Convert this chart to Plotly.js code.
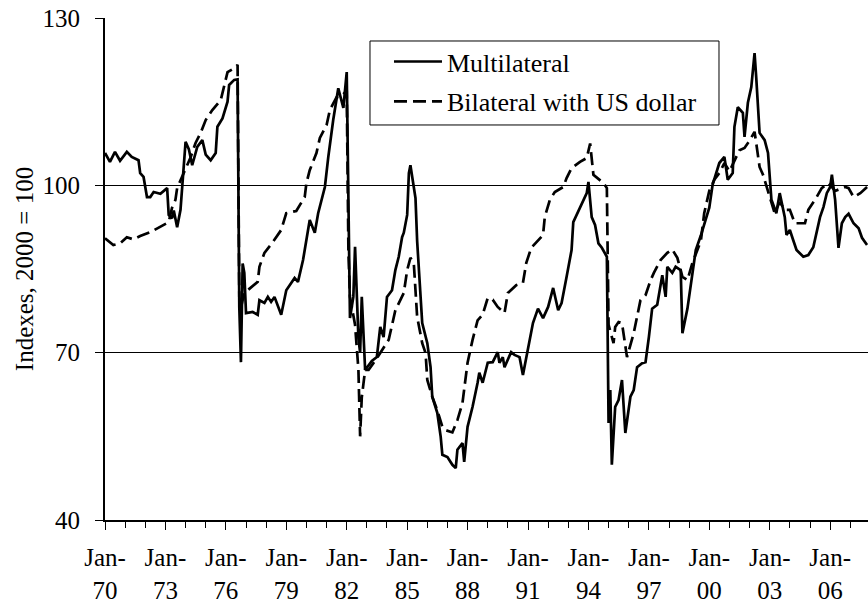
<!DOCTYPE html>
<html>
<head>
<meta charset="utf-8">
<script src="https://cdn.plot.ly/plotly-3.0.1.min.js"></script>
<style>html,body{margin:0;padding:0;background:#fff;}#chart{width:868px;height:604px;}</style>
</head>
<body>
<div id="chart"></div>
<script>
const seriesNames = ["Multilateral", "Bilateral with US dollar"];

const multiDates = ["1970-01","1970-04","1970-07","1970-10","1971-02","1971-05","1971-09","1971-10","1971-12","1972-02","1972-04","1972-06","1972-10","1973-01","1973-02","1973-03","1973-05","1973-06","1973-08","1973-10","1973-11","1974-01","1974-03","1974-05","1974-08","1974-11","1975-01","1975-04","1975-07","1975-08","1975-11","1976-02","1976-03","1976-06","1976-08","1976-09","1976-10","1976-11","1976-12","1977-01","1977-05","1977-08","1977-09","1977-12","1978-02","1978-04","1978-06","1978-10","1979-01","1979-06","1979-08","1979-11","1980-03","1980-06","1980-08","1980-12","1981-02","1981-05","1981-08","1981-10","1981-11","1982-01","1982-02","1982-03","1982-05","1982-06","1982-08","1982-09","1982-10","1982-12","1983-04","1983-07","1983-09","1983-11","1984-01","1984-04","1984-06","1984-08","1984-10","1984-11","1985-01","1985-02","1985-03","1985-05","1985-06","1985-07","1985-09","1985-10","1986-01","1986-03","1986-04","1986-07","1986-09","1986-10","1987-01","1987-04","1987-06","1987-07","1987-10","1987-11","1988-01","1988-04","1988-07","1988-08","1988-10","1989-01","1989-04","1989-07","1989-08","1989-10","1989-11","1990-03","1990-05","1990-08","1990-10","1991-01","1991-04","1991-07","1991-10","1992-01","1992-04","1992-07","1992-09","1992-12","1993-03","1993-04","1993-06","1993-08","1993-12","1994-01","1994-03","1994-05","1994-07","1994-09","1994-12","1995-01","1995-02","1995-03","1995-05","1995-07","1995-09","1995-11","1996-02","1996-04","1996-06","1996-09","1996-11","1997-01","1997-03","1997-06","1997-08","1997-09","1997-11","1997-12","1998-03","1998-05","1998-08","1998-09","1998-12","1999-05","1999-08","1999-10","2000-01","2000-03","2000-07","2000-10","2000-12","2001-03","2001-04","2001-06","2001-09","2001-10","2001-12","2002-02","2002-04","2002-05","2002-07","2002-10","2002-12","2003-02","2003-05","2003-07","2003-10","2003-11","2004-01","2004-03","2004-05","2004-09","2004-12","2005-03","2005-05","2005-07","2005-09","2005-11","2006-01","2006-02","2006-04","2006-06","2006-08","2006-10","2006-12","2007-03","2007-06","2007-08","2007-11"];
const multiValues = [105.8,104.2,106.0,104.4,106.0,105.1,104.5,102.2,101.5,97.9,97.9,98.8,98.5,99.2,99.5,94.7,94.1,95.5,92.5,95.6,99.7,107.8,106.5,103.6,106.9,108.1,105.5,104.5,105.8,110.5,112.0,115.0,118.0,118.9,119.0,78.2,68.3,86.0,84.3,77.1,77.3,76.8,79.4,78.9,80.0,79.1,80.0,76.8,81.2,83.4,82.7,86.6,93.8,91.5,95.0,99.7,105.1,111.7,117.4,114.9,113.9,120.3,100.4,76.2,80.0,89.0,72.6,70.0,80.0,66.9,68.5,69.2,74.6,72.8,80.0,81.2,84.8,87.2,90.7,91.5,94.7,102.2,103.6,99.7,97.7,90.0,80.0,75.3,71.7,67.4,62.1,59.2,54.9,51.7,51.3,49.9,49.3,52.6,53.8,50.4,56.7,60.3,64.6,66.4,64.6,68.2,68.3,70.1,68.2,69.2,67.4,70.1,69.6,69.2,66.0,70.5,75.3,77.9,76.2,78.2,81.6,77.6,78.9,83.6,88.4,93.4,94.7,96.1,98.6,100.6,94.3,92.9,89.6,88.8,87.2,57.4,63.3,49.9,60.3,61.5,65.1,55.6,62.1,63.3,67.4,68.1,68.3,72.8,77.9,78.6,81.8,83.9,80.0,85.4,84.3,85.4,84.8,73.5,77.9,88.4,91.0,93.0,96.0,100.1,104.0,105.1,101.0,102.2,110.5,114.0,113.0,108.7,114.8,117.6,123.7,119.4,109.4,108.1,105.8,97.4,95.0,98.6,94.3,91.1,92.0,90.2,88.4,87.2,87.5,88.9,91.5,94.3,96.1,98.6,99.7,101.9,97.4,88.8,93.2,94.3,94.9,93.2,92.3,90.6,89.3];

const bilatDates = ["1970-01","1970-06","1970-10","1971-02","1971-06","1971-10","1972-04","1972-12","1973-03","1973-05","1973-07","1973-08","1974-01","1974-04","1974-07","1974-10","1975-01","1975-05","1975-10","1976-02","1976-06","1976-08","1976-09","1976-10","1976-12","1977-02","1977-08","1977-09","1977-12","1978-05","1978-10","1979-01","1979-07","1979-12","1980-01","1980-03","1980-07","1980-09","1981-01","1981-03","1981-07","1981-10","1982-01","1982-02","1982-03","1982-06","1982-08","1982-09","1982-10","1982-12","1983-02","1983-07","1984-02","1984-06","1984-11","1985-01","1985-03","1985-05","1985-07","1985-10","1985-12","1986-01","1986-04","1986-07","1986-10","1986-12","1987-04","1987-07","1987-10","1987-11","1988-01","1988-04","1988-07","1988-10","1989-01","1989-04","1989-07","1989-11","1990-01","1990-06","1990-10","1990-12","1991-03","1991-10","1991-11","1992-02","1992-05","1992-10","1992-12","1993-03","1993-08","1993-12","1994-01","1994-02","1994-04","1994-10","1994-12","1995-01","1995-04","1995-05","1995-07","1995-09","1995-12","1996-04","1996-08","1996-11","1997-02","1997-04","1997-08","1997-12","1998-03","1998-06","1998-09","1998-12","1999-03","1999-08","1999-10","2000-01","2000-04","2000-07","2000-10","2001-01","2001-07","2001-10","2002-01","2002-04","2002-05","2002-07","2002-09","2003-01","2003-04","2003-07","2003-10","2004-01","2004-04","2004-10","2004-12","2005-05","2005-08","2005-12","2006-04","2006-10","2006-12","2007-03","2007-07","2007-11"];
const bilatValues = [90.5,89.3,89.6,90.7,90.3,90.9,91.6,92.9,93.4,96.0,97.4,99.5,103.0,105.0,107.6,109.4,111.7,113.5,115.3,120.3,121.0,121.6,80.0,78.0,80.9,81.2,82.7,85.4,87.9,89.8,92.0,95.0,95.4,97.9,100.4,102.7,105.8,108.5,110.8,113.5,115.8,116.0,117.0,88.0,80.0,75.0,67.0,55.0,62.0,66.9,66.9,69.0,72.3,77.6,80.7,84.8,87.0,86.1,76.4,71.7,69.9,65.1,62.1,59.7,56.7,56.1,55.7,57.9,61.0,63.3,68.2,72.3,75.8,76.8,79.8,79.5,78.2,77.1,80.7,82.1,82.5,86.1,88.8,91.1,94.3,97.4,98.8,99.7,101.3,103.1,104.2,104.9,106.3,107.5,101.9,100.4,99.5,75.0,71.7,74.6,75.5,75.3,69.2,73.5,79.4,80.3,83.0,84.3,86.6,87.9,88.5,87.0,83.6,83.0,86.1,90.0,95.0,99.0,101.0,102.2,104.0,102.5,106.3,106.7,108.0,109.6,107.6,103.3,101.9,98.0,95.0,97.0,95.6,95.6,93.2,93.2,95.6,97.9,99.5,100.4,99.0,99.7,99.5,97.9,98.6,99.7];

const xTickVals = ["1970-01-01","1973-01-01","1976-01-01","1979-01-01","1982-01-01","1985-01-01","1988-01-01","1991-01-01","1994-01-01","1997-01-01","2000-01-01","2003-01-01","2006-01-01"];
const xTickText = ["Jan-<br>70","Jan-<br>73","Jan-<br>76","Jan-<br>79","Jan-<br>82","Jan-<br>85","Jan-<br>88","Jan-<br>91","Jan-<br>94","Jan-<br>97","Jan-<br>00","Jan-<br>03","Jan-<br>06"];
const yTickVals = [40, 70, 100, 130];

const FONT = "Liberation Serif, Times New Roman, serif";

const traces = [
  {x: multiDates, y: multiValues, name: seriesNames[0], type: "scatter", mode: "lines",
   legendgroup: "a", line: {color: "#000", width: 2.7}},
  {x: bilatDates, y: bilatValues, name: seriesNames[1], type: "scatter", mode: "lines",
   legendgroup: "b", line: {color: "#000", width: 2.7, dash: "13px,6px"}}
];

const layout = {
  width: 868, height: 604,
  margin: {l: 105, r: 0, t: 18, b: 84},
  paper_bgcolor: "#fff", plot_bgcolor: "#fff",
  font: {family: FONT, size: 25, color: "#000"},
  showlegend: true,
  legend: {x: 0.3722, y: 0.960, xanchor: "left", yanchor: "top",
    borderwidth: 0, bgcolor: "rgba(0,0,0,0)", itemwidth: 48,
    font: {family: FONT, size: 26, color: "#000"}, tracegroupgap: 3},
  shapes: [
    {type: "rect", xref: "paper", yref: "paper", x0: 0.3473, x1: 0.8047, y0: 0.7869, y1: 0.9542,
     line: {color: "#000", width: 1}, fillcolor: "rgba(0,0,0,0)", layer: "above"}
  ],
  xaxis: {
    type: "date", range: ["1970-01-01", "2007-11-18"],
    tickmode: "array", tickvals: xTickVals, ticktext: xTickText,
    ticks: "outside", ticklen: 8, tickwidth: 1, tickcolor: "#000",
    minor: {dtick: "M12", tick0: "1970-01-01", ticks: "outside", ticklen: 6, tickwidth: 1, tickcolor: "#000", showgrid: false},
    showline: true, linecolor: "#000", linewidth: 2,
    showgrid: false, zeroline: false,
    tickfont: {family: FONT, size: 25, color: "#000"},
    ticklabelstandoff: 6
  },
  yaxis: {
    range: [40, 130], tickmode: "array", tickvals: yTickVals,
    ticks: "outside", ticklen: 8, tickwidth: 1, tickcolor: "#000",
    showline: true, linecolor: "#000", linewidth: 2,
    showgrid: true, gridcolor: "#000", gridwidth: 1, zeroline: false,
    tickfont: {family: FONT, size: 25, color: "#000"},
    ticklabelstandoff: 10,
    title: {text: "Indexes, 2000 = 100", font: {family: FONT, size: 25, color: "#000"}, standoff: 2}
  }
};

Plotly.newPlot("chart", traces, layout, {displayModeBar: false, staticPlot: true});
</script>
</body>
</html>
